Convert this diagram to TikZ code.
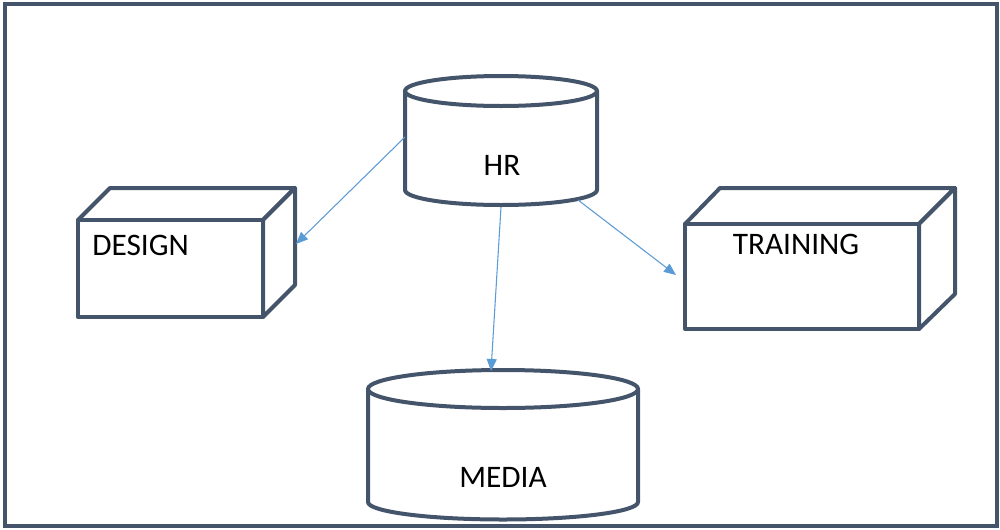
\documentclass[tikz,border=0pt]{standalone}
\usepackage{fontspec}
\setmainfont{Carlito}
\usetikzlibrary{arrows.meta}
\definecolor{frame}{HTML}{44546A}
\definecolor{link}{HTML}{5B9BD5}
\tikzset{
  shapeline/.style={draw=frame, line width=3pt, line join=round, fill=white},
  lbl/.style={font=\fontsize{23.5}{27}\selectfont, inner sep=0pt, text=black},
  conn/.style={draw=link, line width=0.8pt, -{Triangle[length=9pt,width=7.5pt]}, link}
}
\begin{document}
\begin{tikzpicture}[x=0.75pt,y=-0.75pt]
\useasboundingbox (0,0) rectangle (1000,529);
% outer frame
\draw[draw=frame, line width=3pt] (5,4) rectangle (997,526);

% HR cylinder
\draw[shapeline] (405,91) -- (405,190) arc[start angle=180,end angle=0,x radius=96,y radius=15] -- (597,91);
\draw[shapeline] (501,91) ellipse[x radius=96,y radius=15];
\node[lbl] (hr) at (502,165) {HR};

% DESIGN box
\draw[shapeline] (78,220) -- (110,188) -- (295,188) -- (263,220) -- cycle;
\draw[shapeline] (263,220) -- (295,188) -- (295,285) -- (263,317) -- cycle;
\draw[shapeline] (78,220) rectangle (263,317);
\node[lbl, anchor=west] (design) at (92,245) {DESIGN};

% TRAINING box
\draw[shapeline] (685,224) -- (720,188) -- (955,188) -- (919,224) -- cycle;
\draw[shapeline] (919,224) -- (955,188) -- (955,294) -- (919,329) -- cycle;
\draw[shapeline] (685,224) rectangle (919,329);
\node[lbl] (training) at (796,244) {TRAINING};

% MEDIA cylinder
\draw[shapeline] (368,389) -- (368,502) arc[start angle=180,end angle=0,x radius=135,y radius=17.5] -- (638,389);
\draw[shapeline] (503,389) ellipse[x radius=135,y radius=19];
\node[lbl] (media) at (503,477) {MEDIA};

% connector end points
\coordinate (hrL) at (405,137);
\coordinate (hrB) at (501,207);
\coordinate (hrR) at (578,200);
\coordinate (designR) at (296,244);
\coordinate (mediaT) at (491,371);
\coordinate (trainingL) at (676,275);

\draw[conn] (hrL) -- (designR);
\draw[conn] (hrB) -- (mediaT);
\draw[conn] (hrR) -- (trainingL);
\end{tikzpicture}
\end{document}
